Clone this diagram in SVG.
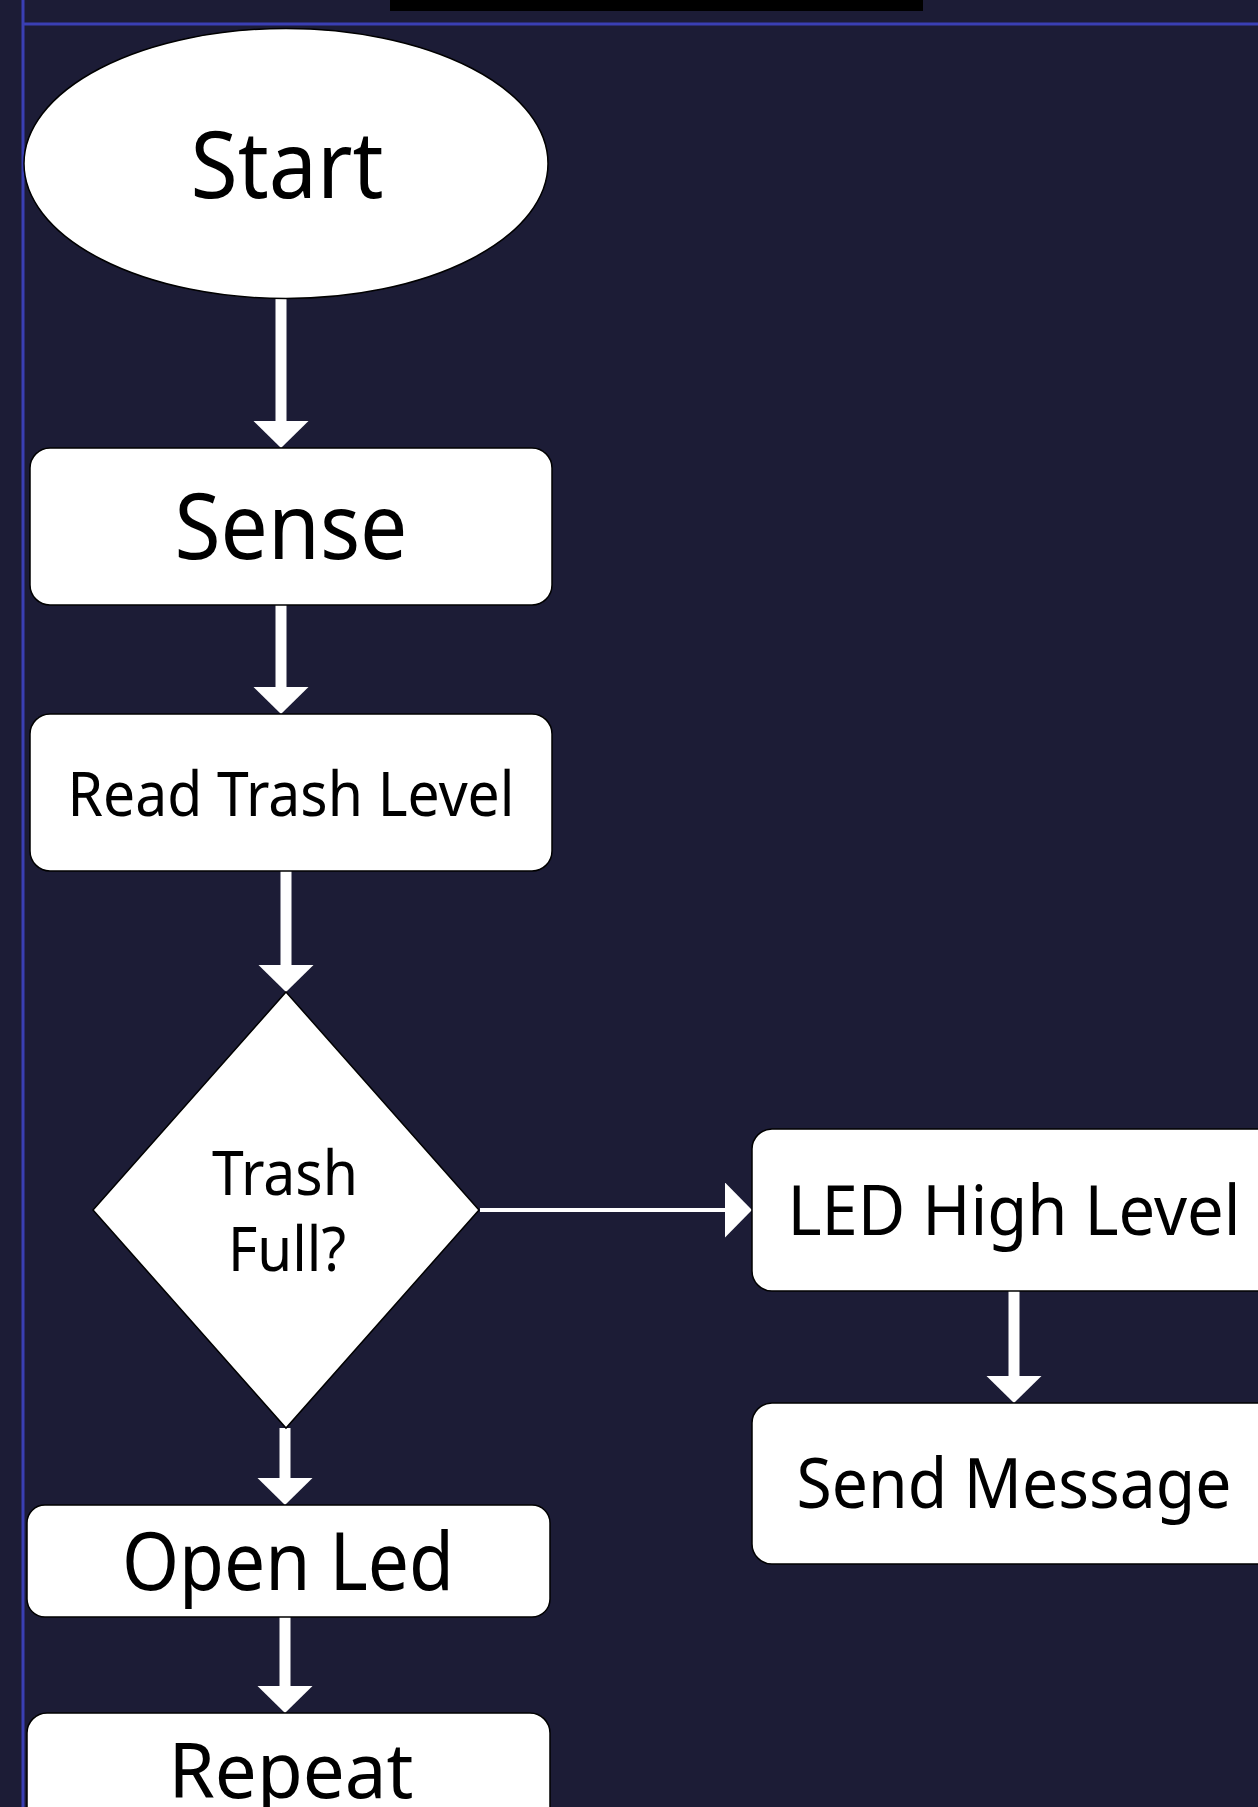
<svg xmlns="http://www.w3.org/2000/svg" width="1258" height="1807" viewBox="0 0 1258 1807">
  <style>
    .box { fill: #ffffff; stroke: #000000; stroke-width: 1.5; }
    .lbl { font-family: "Source Sans Pro", "Noto Sans", "Open Sans", sans-serif; fill: #000000; text-anchor: middle; }
    .wire { stroke: #ffffff; fill: none; stroke-linecap: butt; }
    .thick { stroke-width: 11; }
    .thin { stroke-width: 4; }
    .frame { stroke: #3a3fb4; stroke-width: 3; fill: none; }
  </style>
  <defs>
    <marker id="head" markerUnits="userSpaceOnUse" markerWidth="28" markerHeight="56" viewBox="0 0 28 56" refX="0" refY="27.5" orient="auto">
      <path d="M0,0 L27,27.5 L0,55 Z" fill="#ffffff"/>
    </marker>
  </defs>

  <!-- canvas -->
  <rect x="0" y="0" width="1258" height="1807" fill="#1c1c36"/>
  <rect x="390" y="0" width="533" height="11" fill="#000000"/>
  <line class="frame" x1="23" y1="0" x2="23" y2="1807"/>
  <line class="frame" x1="23" y1="24" x2="1258" y2="24"/>

  <!-- connectors -->
  <g id="connectors">
    <path class="wire thick" d="M281,298 V421" marker-end="url(#head)"/>
    <path class="wire thick" d="M281,605 V687" marker-end="url(#head)"/>
    <path class="wire thick" d="M286,871 V965" marker-end="url(#head)"/>
    <path class="wire thin" d="M480,1210 H725" marker-end="url(#head)"/>
    <path class="wire thick" d="M1014,1291 V1376" marker-end="url(#head)"/>
    <path class="wire thick" d="M285,1428 V1478" marker-end="url(#head)"/>
    <path class="wire thick" d="M285,1617 V1686" marker-end="url(#head)"/>
  </g>

  <!-- nodes -->
  <g id="start">
    <ellipse class="box" cx="286" cy="163.5" rx="262" ry="135"/>
    <text class="lbl" x="287" y="198" font-size="94" textLength="193" lengthAdjust="spacingAndGlyphs">Start</text>
  </g>
  <g id="sense">
    <rect class="box" x="30" y="448" width="522" height="157" rx="20"/>
    <text class="lbl" x="291" y="559" font-size="91" textLength="233" lengthAdjust="spacingAndGlyphs">Sense</text>
  </g>
  <g id="read-level">
    <rect class="box" x="30" y="714" width="522" height="157" rx="20"/>
    <text class="lbl" x="291" y="816" font-size="62" textLength="447" lengthAdjust="spacingAndGlyphs">Read Trash Level</text>
  </g>
  <g id="trash-full">
    <polygon class="box" points="286,992 479,1210 286,1428 93,1210"/>
    <text class="lbl" x="285" y="1195" font-size="62" textLength="146" lengthAdjust="spacingAndGlyphs">Trash</text>
    <text class="lbl" x="287" y="1271" font-size="62" textLength="118" lengthAdjust="spacingAndGlyphs">Full?</text>
  </g>
  <g id="led-high">
    <rect class="box" x="752" y="1129" width="524" height="162" rx="20"/>
    <text class="lbl" x="1014" y="1235" font-size="70" textLength="453" lengthAdjust="spacingAndGlyphs">LED High Level</text>
  </g>
  <g id="send-message">
    <rect class="box" x="752" y="1403" width="524" height="161" rx="20"/>
    <text class="lbl" x="1014" y="1508" font-size="70" textLength="435" lengthAdjust="spacingAndGlyphs">Send Message</text>
  </g>
  <g id="open-led">
    <rect class="box" x="27" y="1505" width="523" height="112" rx="18"/>
    <text class="lbl" x="288" y="1590" font-size="80" textLength="332" lengthAdjust="spacingAndGlyphs">Open Led</text>
  </g>
  <g id="repeat">
    <rect class="box" x="27" y="1713" width="523" height="157" rx="20"/>
    <text class="lbl" x="291" y="1798" font-size="77" textLength="245" lengthAdjust="spacingAndGlyphs">Repeat</text>
  </g>
</svg>
